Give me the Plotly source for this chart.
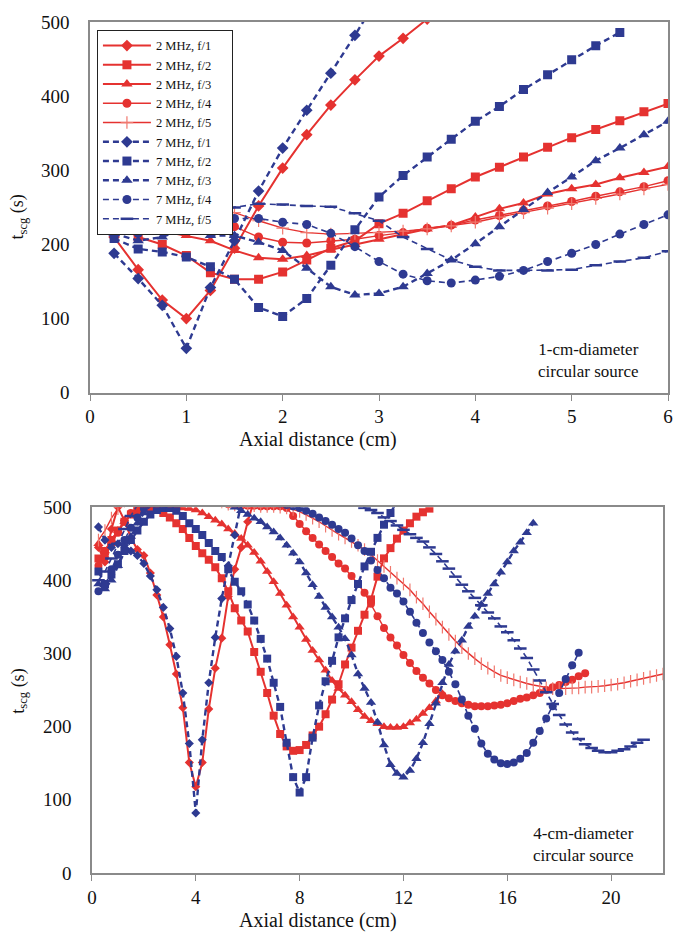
import plotly.graph_objects as go

# ---------------- data: top panel (1-cm-diameter source) ----------------
X_TOP = [0.25, 0.5, 0.75, 1.0, 1.25, 1.5, 1.75, 2.0, 2.25, 2.5, 2.75, 3.0,
         3.25, 3.5, 3.75, 4.0, 4.25, 4.5, 4.75, 5.0, 5.25, 5.5, 5.75, 6.0]

top_2mhz_f1 = [210, 166, 125, 100, 138, 195, 252, 303, 348, 388, 422, 454, 478, 504]
top_2mhz_f2 = [230, 210, 200, 185, 162, 153, 153, 163, 179, 195, 205, 228, 242, 259,
               275, 291, 304, 318, 331, 344, 355, 367, 379, 390]
top_2mhz_f3 = [232, 222, 218, 212, 205, 192, 182, 180, 185, 193, 200, 207, 214, 221,
               226, 237, 248, 256, 268, 275, 281, 290, 297, 305]
top_2mhz_f4 = [240, 228, 228, 230, 226, 224, 210, 203, 202, 205, 207, 212, 216, 222,
               226, 233, 239, 246, 252, 258, 265, 271, 278, 286]
top_2mhz_f5 = [245, 235, 238, 241, 246, 243, 232, 222, 216, 214, 215, 216, 218, 221,
               225, 230, 237, 243, 249, 255, 262, 268, 275, 281]
top_7mhz_f1 = [188, 154, 118, 60, 142, 205, 272, 330, 381, 431, 482, 535]
top_7mhz_f2 = [208, 194, 190, 183, 170, 153, 115, 103, 127, 172, 220, 264, 293, 318,
               342, 366, 386, 409, 429, 449, 468, 486]
top_7mhz_f3 = [215, 205, 210, 223, 212, 212, 203, 192, 168, 143, 132, 134, 143, 161,
               179, 201, 224, 247, 270, 291, 313, 330, 348, 366]
top_7mhz_f4 = [220, 215, 222, 227, 232, 235, 235, 230, 227, 215, 197, 177, 160, 151,
               148, 152, 157, 165, 177, 188, 200, 214, 227, 240]
top_7mhz_f5 = [222, 216, 222, 235, 243, 250, 255, 254, 252, 251, 242, 232, 210, 194,
               179, 170, 165, 165, 165, 166, 172, 177, 182, 191]

# ---------------- data: bottom panel (4-cm-diameter source) ----------------
# samples every 0.25 cm starting at 0.25 cm
STEP_BOT = 0.25

bot_2mhz_f1 = [445, 425, 470, 500, 482, 458, 442, 434, 410, 380, 350, 312, 272, 226,
               151, 118, 151, 224, 280, 321, 378, 415, 445, 480, 510]
bot_2mhz_f2 = [430, 440, 455, 468, 480, 490, 496, 499, 499, 497, 492, 486, 478, 470,
               458, 447, 437, 428, 418, 403, 385, 362, 345, 330, 302, 275, 246, 215,
               190, 173, 167, 168, 175, 188, 200, 217, 237, 258, 285, 308, 331, 353,
               374, 405, 430, 444, 457, 468, 478, 487, 493, 498]
bot_2mhz_f3 = [450, 440, 455, 468, 480, 490, 497, 500, 502, 502, 501, 500, 500, 499,
               498, 496, 492, 487, 482, 477, 470, 464, 457, 448, 438, 426, 412, 398,
               382, 366, 350, 336, 319, 304, 291, 277, 263, 252, 243, 234, 223, 214,
               208, 204, 200, 199, 199, 200, 205, 210, 218, 226, 235, 245]
bot_2mhz_f4 = [420, 432, 450, 465, 480, 492, 500, 506, 510, 514, 516, 518, 519, 520,
               520, 520, 519, 518, 516, 506, 504, 503, 502, 502, 502, 501, 501, 501,
               501, 499, 488, 477, 467, 458, 449, 440, 432, 423, 416, 406, 395, 383,
               368, 351, 335, 322, 311, 298, 287, 276, 267, 259, 250, 243, 239, 235,
               232, 230, 228, 228, 228, 229, 230, 232, 235, 238, 240, 243, 246, 250,
               254, 257, 261, 264, 269, 273]
bot_2mhz_f5 = [455, 468, 485, 498, 508, 515, 520, 524, 527, 529, 530, 531, 531, 530,
               528, 525, 521, 516, 511, 507, 504, 503, 502, 502, 502, 501, 501, 501,
               500, 499, 497, 494, 490, 485, 480, 474, 468, 463, 458, 453, 448, 442,
               435, 427, 419, 411, 403, 395, 387, 377, 368, 357, 347, 336, 326, 317,
               308, 300, 293, 286, 280, 275, 270, 267, 264, 261, 259, 257, 255, 253,
               252, 252, 252, 253, 253, 254, 254, 255, 256, 257, 258, 260, 262, 264,
               266, 268, 270, 272]
bot_7mhz_f1 = [473, 455, 445, 450, 448, 440, 434, 423, 406, 387, 363, 334, 296, 246,
               177, 82, 182, 260, 322, 375, 420, 462, 505]
bot_7mhz_f2 = [412, 395, 408, 422, 440, 455, 468, 480, 490, 496, 499, 499, 495, 488,
               478, 470, 462, 451, 440, 432, 415, 398, 385, 367, 345, 320, 293, 260,
               227, 178, 131, 110, 131, 185, 229, 262, 290, 322, 348, 373, 395, 419,
               439, 458, 476, 492, 508]
bot_7mhz_f3 = [395, 388, 400, 420, 440, 460, 478, 492, 503, 512, 518, 522, 525, 526,
               526, 525, 523, 520, 516, 511, 506, 500, 495, 490, 485, 480, 473, 466,
               458, 448, 437, 425, 410, 394, 378, 363, 350, 336, 320, 298, 272, 252,
               233, 206, 175, 148, 136, 131, 140, 156, 178, 204, 232, 260, 285, 303,
               318, 337, 351, 367, 382, 395, 411, 425, 440, 452, 465, 478]
bot_7mhz_f4 = [385, 392, 415, 435, 455, 472, 486, 498, 508, 516, 522, 526, 530, 532,
               533, 534, 534, 533, 532, 530, 528, 525, 522, 519, 516, 513, 510, 507,
               505, 503, 501, 499, 495, 491, 486, 481, 476, 470, 465, 457, 448, 440,
               427, 414, 403, 390, 382, 371, 357, 342, 328, 315, 303, 291, 275, 258,
               237, 215, 197, 177, 163, 155, 150, 149, 151, 156, 164, 178, 194, 211,
               228, 246, 265, 284, 301]
bot_7mhz_f5 = [400, 412, 430, 450, 470, 488, 503, 515, 525, 533, 540, 545, 549, 552,
               554, 555, 555, 555, 554, 553, 551, 549, 547, 545, 542, 539, 536, 533,
               530, 527, 524, 521, 518, 515, 512, 510, 508, 506, 505, 504, 502, 499,
               496, 492, 486, 481, 475, 469, 463, 458, 453, 445, 436, 426, 416, 405,
               394, 385, 376, 366, 356, 348, 337, 329, 318, 307, 294, 278, 263, 247,
               231, 216, 203, 192, 183, 176, 171, 167, 165, 165, 167, 169, 173, 178,
               182]

LABELS = ["2 MHz, f/1", "2 MHz, f/2", "2 MHz, f/3", "2 MHz, f/4", "2 MHz, f/5",
          "7 MHz, f/1", "7 MHz, f/2", "7 MHz, f/3", "7 MHz, f/4", "7 MHz, f/5"]

TOP_SERIES = [top_2mhz_f1, top_2mhz_f2, top_2mhz_f3, top_2mhz_f4, top_2mhz_f5,
              top_7mhz_f1, top_7mhz_f2, top_7mhz_f3, top_7mhz_f4, top_7mhz_f5]
BOT_SERIES = [bot_2mhz_f1, bot_2mhz_f2, bot_2mhz_f3, bot_2mhz_f4, bot_2mhz_f5,
              bot_7mhz_f1, bot_7mhz_f2, bot_7mhz_f3, bot_7mhz_f4, bot_7mhz_f5]

# ---------------- styling ----------------
RED = "rgb(229,50,48)"
RED_LIGHT = "rgb(240,120,110)"
BLUE = "rgb(46,58,145)"
FONT = "Liberation Serif"

SYM = ["diamond", "square", "triangle-up", "circle", None]
TOP_SIZE = [9, 9, 10, 9, 9]
BOT_SIZE = [7, 8, 9, 8, 8]


def style(i, panel):
    red = i < 5
    k = i % 5
    color = RED if red else BLUE
    lw = (2.0 if k < 3 else 1.4) if red else (2.4 if k < 3 else 1.6)
    dash = "solid" if red else "6px,4px"
    if k == 4:
        if red:
            sym = "cross-thin" if panel == "top" else "line-ns"
            marker = dict(symbol=sym, size=9, color=RED_LIGHT,
                          line=dict(color=RED_LIGHT, width=1.2))
        else:
            marker = dict(symbol="line-ew", size=9, color=BLUE,
                          line=dict(color=BLUE, width=2.5))
    else:
        size = TOP_SIZE[k] if panel == "top" else BOT_SIZE[k]
        marker = dict(symbol=SYM[k], size=size, color=color, line=dict(width=0))
    return dict(line=dict(color=color, width=lw, dash=dash), marker=marker)


fig = go.Figure()

PAD = "\u00a0" * 5
for i, ys in enumerate(TOP_SERIES):
    st = style(i, "top")
    fig.add_trace(go.Scatter(x=X_TOP[:len(ys)], y=ys, mode="lines+markers",
                             name=LABELS[i] + PAD, xaxis="x", yaxis="y",
                             line=st["line"], marker=st["marker"],
                             showlegend=True))

for i, ys in enumerate(BOT_SERIES):
    st = style(i, "bot")
    xs = [STEP_BOT * (j + 1) for j in range(len(ys))]
    fig.add_trace(go.Scatter(x=xs, y=ys, mode="lines+markers",
                             name=LABELS[i], xaxis="x2", yaxis="y2",
                             line=st["line"], marker=st["marker"],
                             showlegend=False))

AXCOL = "#8a8a8a"
tickfont = dict(family=FONT, size=19, color="#111")
common_x = dict(showline=True, linecolor=AXCOL, linewidth=1.5, mirror=True,
                ticks="outside", ticklen=6, tickcolor=AXCOL, tickwidth=1.2,
                showgrid=False, zeroline=False, tickfont=tickfont,
                ticklabelstandoff=0)
common_y = dict(showline=True, linecolor=AXCOL, linewidth=1.5, mirror=True,
                ticks="", showgrid=False, zeroline=False, tickfont=tickfont,
                range=[0, 500], dtick=100, ticklabelstandoff=15)

fig.update_layout(
    width=685, height=938,
    margin=dict(l=90, r=12, t=17, b=65),
    paper_bgcolor="white", plot_bgcolor="white",
    font=dict(family=FONT, color="#111"),
    xaxis=dict(domain=[0, 1], anchor="y", range=[0, 6], dtick=1, **common_x),
    yaxis=dict(domain=[0.5643, 1], anchor="x", **common_y),
    xaxis2=dict(domain=[0.0034, 0.9914], anchor="y2", range=[0, 22],
                tickvals=[0, 4, 8, 12, 16, 20], **common_x),
    yaxis2=dict(domain=[0, 0.4299], anchor="x2", **common_y),
    legend=dict(x=0.012, y=0.9907, xanchor="left", yanchor="top",
                bgcolor="white", bordercolor="#222", borderwidth=1,
                font=dict(family=FONT, size=12.5, color="#111"),
                tracegroupgap=0, itemwidth=48),
    showlegend=True,
)

ann_font = dict(family=FONT, size=17, color="#111")
fig.add_annotation(text="1-cm-diameter<br>circular source", xref="x", yref="y",
                   x=5.72, y=44, xanchor="right", yanchor="middle",
                   showarrow=False, align="center", font=ann_font)
fig.add_annotation(text="4-cm-diameter<br>circular source", xref="x2", yref="y2",
                   x=20.95, y=39, xanchor="right", yanchor="middle",
                   showarrow=False, align="center", font=ann_font)

title_font = dict(family=FONT, size=20, color="#111")
fig.add_annotation(text="Axial distance (cm)", xref="paper", yref="paper",
                   x=0.394, y=(873 - 437) / 856, xanchor="center", yanchor="middle",
                   showarrow=False, font=title_font)
fig.add_annotation(text="Axial distance (cm)", xref="paper", yref="paper",
                   x=0.394, y=(873 - 921) / 856, xanchor="center", yanchor="middle",
                   showarrow=False, font=title_font)
fig.add_annotation(text="t<sub>scg</sub> (s)", xref="paper", yref="paper",
                   x=(18 - 90) / 583, y=(873 - 213) / 856, textangle=-90,
                   xanchor="center", yanchor="middle", showarrow=False,
                   font=dict(family=FONT, size=18, color="#111"))
fig.add_annotation(text="t<sub>scg</sub> (s)", xref="paper", yref="paper",
                   x=(18 - 90) / 583, y=(873 - 690) / 856, textangle=-90,
                   xanchor="center", yanchor="middle", showarrow=False,
                   font=dict(family=FONT, size=18, color="#111"))

fig.write_html("out.html")
